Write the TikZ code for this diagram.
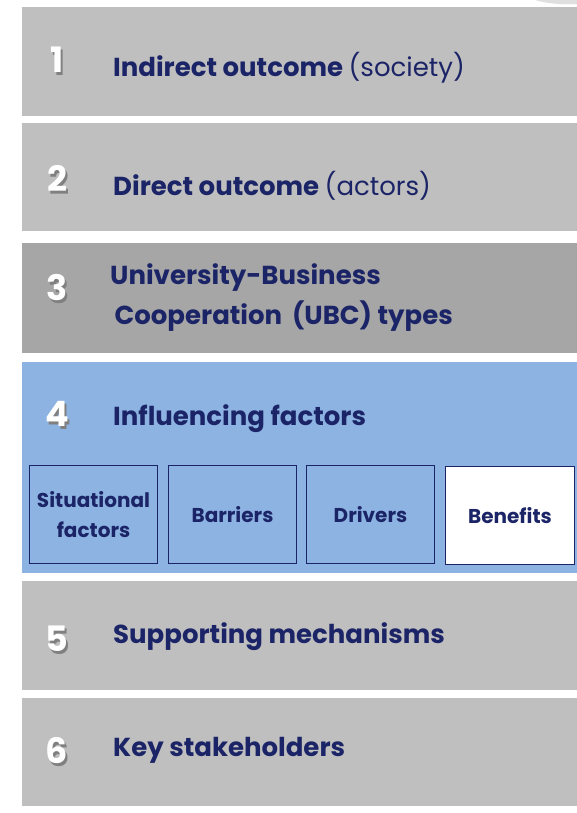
\documentclass[tikz,border=0pt]{standalone}
\usepackage{fontspec}
\setmainfont{Poppins}
\begin{document}
\begin{tikzpicture}[x=1pt,y=-1pt,
  band/.style={fill=#1,draw=none},
  lbl/.style={anchor=west,text=navy,font=\bfseries\fontsize{26}{40}\selectfont,inner sep=0pt},
  num/.style={text=white,font=\bfseries\fontsize{35}{36}\selectfont,inner sep=0pt},
  sub/.style={draw=navy,line width=1pt,fill=blue4,minimum width=128pt,minimum height=98pt,anchor=north west,text=navy,align=center,font=\bfseries\fontsize{20}{30}\selectfont,inner sep=1pt}]
\definecolor{navy}{HTML}{1B2466}
\definecolor{gray1}{HTML}{BFBFBF}
\definecolor{gray3}{HTML}{A6A6A6}
\definecolor{blue4}{HTML}{8DB3E2}
\newcommand{\shnum}[1]{\makebox[0pt][l]{\kern2pt\raisebox{-3pt}{\textcolor{black!50}{#1}}}#1}
\useasboundingbox (0,0) rectangle (577,813);
\fill[white] (0,0) rectangle (577,813);
\fill[gray!25] (535,0) .. controls (545,3) and (560,5) .. (577,4) -- (577,0) -- cycle;
% bands
\path[band=gray1] (22,7) rectangle (577,116);
\path[band=gray1] (22,123) rectangle (577,231);
\path[band=gray3] (22,243) rectangle (577,353);
\path[band=blue4] (22,362) rectangle (577,573);
\path[band=gray1] (22,581) rectangle (577,690);
\path[band=gray1] (22,698) rectangle (577,806);
% numbers
\foreach \n/\y in {1/61,2/180,3/289,4/415,5/640,6/752}{
  \node[num] (n\n) at (57,\y) {\shnum{\n}};
}
% labels
\node[lbl] (l1) at (113,68) {Indirect outcome \mdseries(society)};
\node[lbl] (l2) at (113,186) {Direct outcome \mdseries(actors)};
\node[lbl,align=left] (l3) at (110,298) {University-Business\\\,Cooperation\, (UBC) types};
\node[lbl] (l4) at (113,419) {Influencing factors};
\node[lbl] (l5) at (113,637) {Supporting mechanisms};
\node[lbl] (l6) at (113,750) {Key stakeholders};
% sub boxes
\node[sub] (b1) at (29,465) {Situational\\factors};
\node[sub] (b2) at (168,465) {Barriers};
\node[sub] (b3) at (306,465) {Drivers};
\node[sub,fill=white,minimum width=129pt] (b4) at (445,466) {Benefits};
\end{tikzpicture}
\end{document}
